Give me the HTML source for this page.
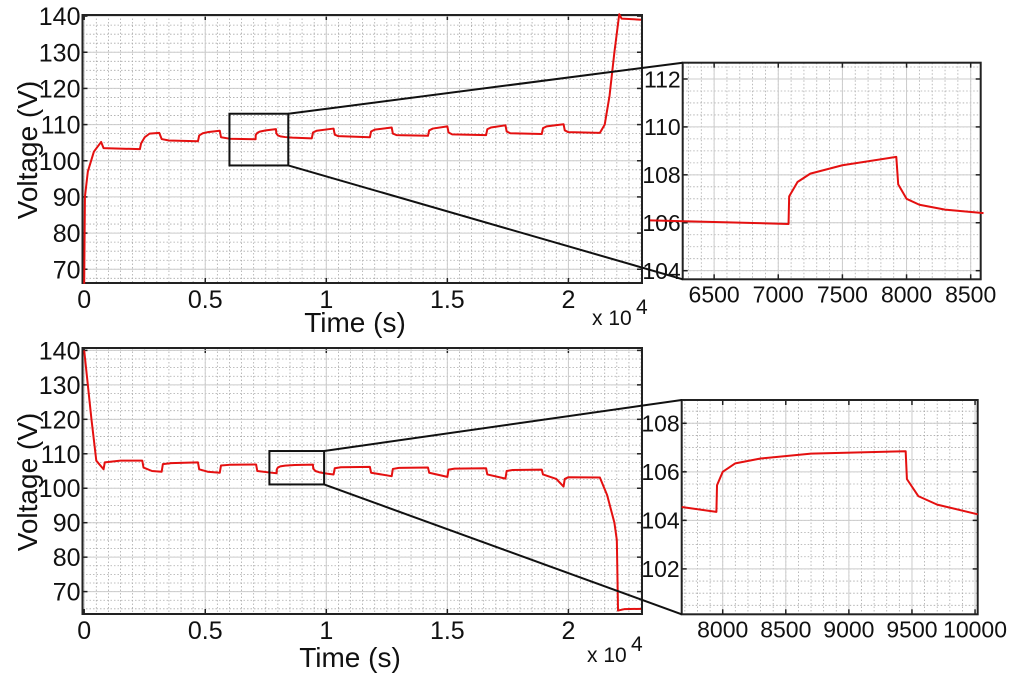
<!DOCTYPE html>
<html><head><meta charset="utf-8"><style>
body{margin:0;background:#fff}
svg{display:block;font-family:"Liberation Sans",sans-serif}
</style></head><body>
<svg id="c" width="1024" height="678" viewBox="0 0 1024 678"></svg>
<script>
// ---- data ----
const topTimes=[0,30,150,400,700,800,2300,2350,2500,2700,3100,3200,3500,4700,4750,4900,5100,5600,5650,6000,7080,7085,7150,7250,7500,7920,7935,8000,8100,8300,8600,9400,9450,9600,10300,10350,10500,11800,11850,12000,12700,12750,12900,14200,14250,14400,15000,15050,15200,16600,16650,16800,17400,17450,17600,18900,18950,19100,19800,19850,20000,21300,21500,21700,21900,22100,22200,23000];
const topVolts=[66,90,97,102.5,105.2,103.5,103.2,104.8,106.5,107.5,107.7,106,105.6,105.4,107,107.6,107.9,108.3,106.5,106.1,105.95,107.1,107.7,108.05,108.4,108.75,107.6,107.0,106.75,106.55,106.4,106.2,107.8,108.3,108.9,107.2,106.8,106.5,108.1,108.6,109.2,107.5,107.1,106.9,108.4,108.9,109.5,107.8,107.3,107.1,108.7,109.2,109.8,108.1,107.6,107.4,109,109.5,110.1,108.4,107.9,107.7,110,118,130,140.5,139.3,139];
const botTimes=[0,300,500,800,850,1500,2400,2450,2800,3200,3250,3600,4700,4750,5100,5600,5650,6000,7100,7150,7675,7950,7955,8000,8100,8300,8700,9450,9460,9550,9700,10021,10300,10350,10600,11800,11850,12700,12750,13000,14200,14250,15000,15050,15300,16600,16650,17400,17450,17700,18900,18950,19500,19800,19850,20000,21300,21600,21900,22000,22050,22300,23000];
const botVolts=[140,120,108,105.5,107.5,108,108,106,105,104.8,107,107.3,107.5,105.5,104.8,104.5,106.6,106.8,106.9,105,104.55,104.35,105.45,106.0,106.35,106.55,106.75,106.85,105.7,105.0,104.65,104.25,104,105.8,106.1,106.2,104.5,103.5,105.6,105.9,106,104.5,103.3,105.4,105.7,105.8,104,102.8,105,105.3,105.4,104,102.7,100.5,102.7,103.2,103.1,98,90,85,64.5,64.9,65];
const mainXTicks=[0,5000,10000,15000,20000];
const mainXLabels=["0","0.5","1","1.5","2"];
const mainYTicks=[70,80,90,100,110,120,130,140];
const inTopXTicks=[6500,7000,7500,8000,8500];
const inTopYTicks=[104,106,108,110,112];
const inBotXTicks=[8000,8500,9000,9500,10000];
const inBotYTicks=[102,104,106,108];

const svg=document.getElementById('c');
const NS='http://www.w3.org/2000/svg';
function el(tag,attrs,parent){const e=document.createElementNS(NS,tag);for(const k in attrs)e.setAttribute(k,attrs[k]);(parent||svg).appendChild(e);return e;}
function txt(s,x,y,size,anchor,parent){const t=el('text',{x:x,y:y,'font-size':size,'text-anchor':anchor||'middle',fill:'#111'},parent);t.textContent=s;return t;}

function axes(name,box,xd,yd,xTicks,xLabels,yTicks,xMinor,yMinor,tfs){
  const g=el('g',{});
  
  
  const sx=v=>box.l+(v-xd[0])/(xd[1]-xd[0])*(box.r-box.l);
  const sy=v=>box.b-(v-yd[0])/(yd[1]-yd[0])*(box.b-box.t);
  el('rect',{x:box.l,y:box.t,width:box.r-box.l,height:box.b-box.t,fill:'#fff'},g);
  for(let v=Math.ceil(xd[0]/xMinor)*xMinor;v<=xd[1];v+=xMinor)el('line',{x1:sx(v),x2:sx(v),y1:box.t,y2:box.b,stroke:'#aaa','stroke-width':0.8,'stroke-dasharray':'1.5,2'},g);
  for(let v=Math.ceil(yd[0]/yMinor)*yMinor;v<=yd[1];v+=yMinor)el('line',{y1:sy(v),y2:sy(v),x1:box.l,x2:box.r,stroke:'#aaa','stroke-width':0.8,'stroke-dasharray':'1.5,2'},g);
  xTicks.forEach((v,i)=>{const x=sx(v);
    el('line',{x1:x,x2:x,y1:box.t,y2:box.b,stroke:'#ccc','stroke-width':1},g);
    el('line',{x1:x,x2:x,y1:box.b,y2:box.b-5,stroke:'#222','stroke-width':1.5},g);
    el('line',{x1:x,x2:x,y1:box.t,y2:box.t+5,stroke:'#222','stroke-width':1.5},g);
    const t=txt(xLabels?xLabels[i]:String(v),x,box.b+tfs,tfs,'middle',g);
    });
  yTicks.forEach(v=>{const y=sy(v);
    el('line',{x1:box.l,x2:box.r,y1:y,y2:y,stroke:'#ccc','stroke-width':1},g);
    el('line',{x1:box.l,x2:box.l+5,y1:y,y2:y,stroke:'#222','stroke-width':1.5},g);
    el('line',{x1:box.r,x2:box.r-5,y1:y,y2:y,stroke:'#222','stroke-width':1.5},g);
    const t=txt(String(v),box.l-2,y+tfs*0.36,tfs,'end',g);
    });
  el('rect',{x:box.l,y:box.t,width:box.r-box.l,height:box.b-box.t,fill:'none',stroke:'#222','stroke-width':2},g);
  return {g,sx,sy};
}
function series(ax,ts,vs,name){
  const d=ts.map((t,i)=>(i?'L':'M')+ax.sx(t).toFixed(2)+','+ax.sy(vs[i]).toFixed(2)).join('');
  const p=el('path',{d:d,fill:'none',stroke:'#e41010','stroke-width':2,'stroke-linejoin':'round'},ax.g);
  
  
}
function inRange(ts,vs,a,b){const T=[],V=[];ts.forEach((t,i)=>{if(t>=a&&t<=b){T.push(t);V.push(vs[i]);}});return [T,V];}

const A=axes('top-main-plot',{l:82.5,r:642,t:15,b:283},[-70,23040],[66.2,140.3],mainXTicks,mainXLabels,mainYTicks,500,2.5,25);
series(A,topTimes,topVolts,'top-voltage-line');
const B=axes('bottom-main-plot',{l:82.5,r:642,t:348,b:614},[-70,23040],[63.5,140.7],mainXTicks,mainXLabels,mainYTicks,500,2.5,25);
series(B,botTimes,botVolts,'bottom-voltage-line');
const TI=axes('top-inset-plot',{l:682.7,r:980.7,t:62.7,b:279.3},[6255,8578],[103.64,112.68],inTopXTicks,null,inTopYTicks,100,0.5,23);
let r=inRange(topTimes,topVolts,6000,8700);series(TI,r[0],r[1],'top-inset-line');
const BI=axes('bottom-inset-plot',{l:681.7,r:977.7,t:400,b:614.3},[7675,10021],[100.13,108.96],inBotXTicks,null,inBotYTicks,100,0.5,23);
r=inRange(botTimes,botVolts,7600,10100);series(BI,r[0],r[1],'bottom-inset-line');

function zoomBox(ax,x0,x1,y0,y1,ins,name){
  const L=ax.sx(x0),R=ax.sx(x1),T=ax.sy(y1),Bt=ax.sy(y0);
  const g=el('g',{});
  
  
  el('rect',{x:L,y:T,width:R-L,height:Bt-T,fill:'none',stroke:'#111','stroke-width':2},g);
  el('line',{x1:R,y1:T,x2:ins.l,y2:ins.t,stroke:'#111','stroke-width':2},g);
  el('line',{x1:R,y1:Bt,x2:ins.l,y2:ins.b,stroke:'#111','stroke-width':2},g);
}
zoomBox(A,6000,8430,98.7,113,{l:682.7,t:62.7,b:279.3},'top-zoom-box');
zoomBox(B,7650,9910,101.1,110.8,{l:681.7,t:400,b:614.3},'bottom-zoom-box');

function label(s,x,y,size,rot,name){const t=txt(s,x,y,size,'middle');if(rot)t.setAttribute('transform','rotate(-90 '+x+' '+y+')');
  }
label('Voltage (V)',37,150,28,true,'top-y-axis-title');
label('Time (s)',355,332,28,false,'top-x-axis-title');
label('Voltage (V)',37,482,28,true,'bottom-y-axis-title');
label('Time (s)',350,667,28,false,'bottom-x-axis-title');
function expo(x,y,name){const t=el('text',{x:x,y:y,'font-size':21,fill:'#111'});t.textContent='x 10';
  
  const s=el('text',{x:x+44,y:y-11,'font-size':21,fill:'#111'});s.textContent='4';
  }
expo(592,325,'top-x-multiplier');
expo(587,662,'bottom-x-multiplier');
</script>
</body></html>
